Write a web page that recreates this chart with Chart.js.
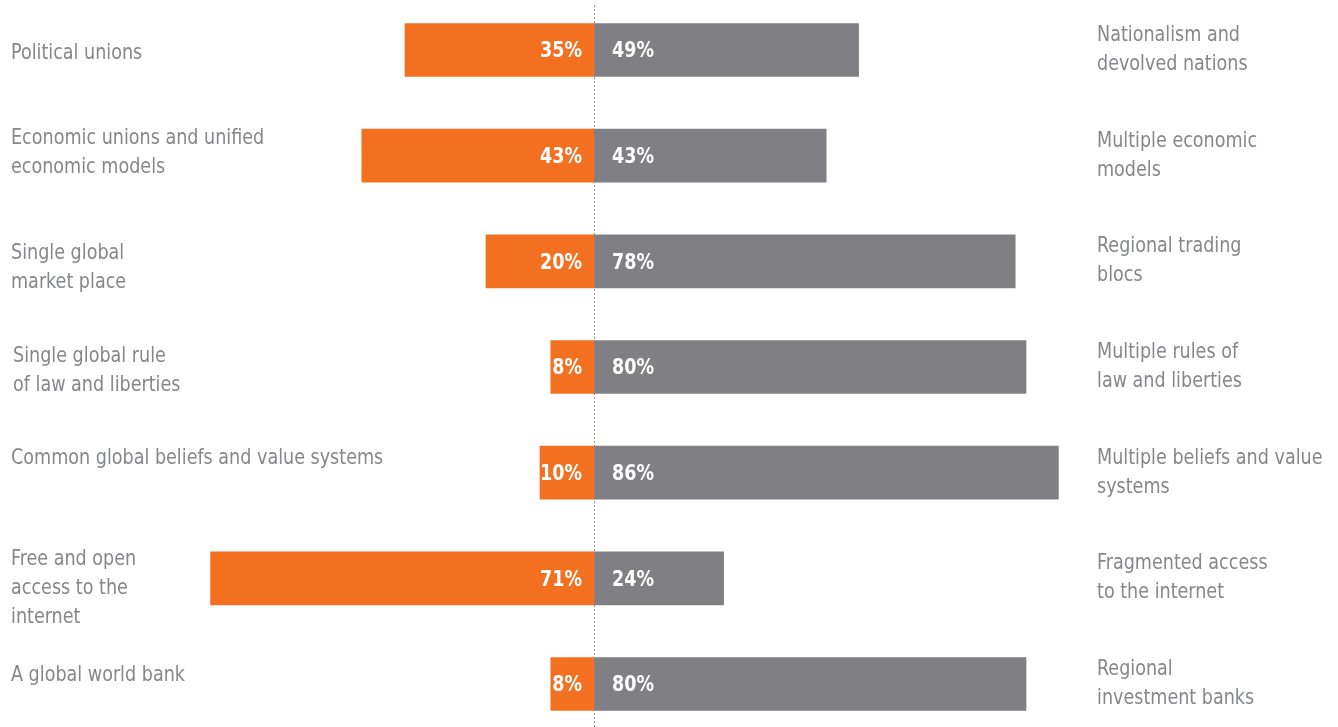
<!DOCTYPE html>
<html>
<head>
<meta charset="utf-8">
<script src="https://cdn.jsdelivr.net/npm/chart.js@4"></script>
<style>
  html, body { margin: 0; padding: 0; background: #fff; }
  #wrap { width: 1338px; height: 727px; }
</style>
</head>
<body>
<div id="wrap"><canvas id="globalChart"></canvas></div>
<script>
// global outlook: share choosing each side
const leftLabels = [
    ['Political unions'],
    ['Economic unions and unified', 'economic models'],
    ['Single global', 'market place'],
    ['Single global rule', 'of law and liberties'],
    ['Common global beliefs and value systems'],
    ['Free and open', 'access to the', 'internet'],
    ['A global world bank']
];
const rightLabels = [
    ['Nationalism and', 'devolved nations'],
    ['Multiple economic', 'models'],
    ['Regional trading', 'blocs'],
    ['Multiple rules of', 'law and liberties'],
    ['Multiple beliefs and value', 'systems'],
    ['Fragmented access', 'to the internet'],
    ['Regional', 'investment banks']
];
const globalValues = [35, 43, 20, 8, 10, 71, 8];
const localValues = [49, 43, 78, 80, 86, 24, 80];

// small vertical nudges for left-hand text blocks (px)
const leftNudge = [4, -3, 7, 4, -14, 10, -8];
const leftIndent = [0, 0, 0, 2, 0, 0, 0];

const ORANGE = '#f37021';
const GREY = '#808084';
const TEXT = '#86878b';
const FONT = '"Liberation Sans Narrow", "DejaVu Sans Condensed", "Roboto", sans-serif';
const SQUEEZE = 0.93; // narrow the font a bit more

// draw text squeezed horizontally, anchored at (x, y)
function narrowText(ctx, text, x, y) {
    ctx.save();
    ctx.translate(x, y);
    ctx.scale(SQUEEZE, 1);
    ctx.fillText(text, 0, 0);
    ctx.restore();
}

const labelsPlugin = {
    id: 'sideLabels',
    beforeDatasetsDraw(chart) {
        const { ctx, scales: { x } } = chart;
        const x0 = x.getPixelForValue(0);
        ctx.save();
        ctx.strokeStyle = '#9d968f';
        ctx.lineWidth = 1;
        ctx.setLineDash([2, 2]);
        ctx.beginPath();
        ctx.moveTo(x0 + 0.5, 5);
        ctx.lineTo(x0 + 0.5, chart.height);
        ctx.stroke();
        ctx.restore();
    },
    afterDatasetsDraw(chart) {
        const { ctx, scales: { x, y } } = chart;
        const x0 = x.getPixelForValue(0);
        const lh = 29;
        ctx.save();
        ctx.textBaseline = 'middle';
        leftLabels.forEach((lines, i) => {
            const cy = y.getPixelForValue(i);
            // side labels
            ctx.font = '21px ' + FONT;
            ctx.fillStyle = TEXT;
            ctx.textAlign = 'left';
            let start = cy - (lines.length - 1) * lh / 2 + leftNudge[i];
            lines.forEach((t, k) => narrowText(ctx, t, 11 + leftIndent[i], start + k * lh));
            const rl = rightLabels[i];
            start = cy - (rl.length - 1) * lh / 2;
            rl.forEach((t, k) => narrowText(ctx, t, 1097, start + k * lh));
            // values inside bars
            ctx.font = 'bold 21px ' + FONT;
            ctx.fillStyle = '#ffffff';
            ctx.textAlign = 'right';
            narrowText(ctx, globalValues[i] + '%', x0 - 12, cy + 2);
            ctx.textAlign = 'left';
            narrowText(ctx, localValues[i] + '%', x0 + 18, cy + 2);
        });
        ctx.restore();
    }
};

new Chart(document.getElementById('globalChart'), {
    type: 'bar',
    data: {
        labels: leftLabels.map(l => l.join(' ')),
        datasets: [{
            label: 'Global',
            data: globalValues.map(v => -v),
            backgroundColor: ORANGE,
            barThickness: 53,
            clip: false
        }, {
            label: 'Local',
            data: localValues,
            backgroundColor: GREY,
            barThickness: 53,
            clip: false
        }]
    },
    options: {
        indexAxis: 'y',
        responsive: true,
        maintainAspectRatio: false,
        animation: false,
        layout: { padding: { top: 50, bottom: 43, left: 0, right: 0 } },
        plugins: {
            legend: { display: false },
            tooltip: { enabled: false }
        },
        scales: {
            x: {
                stacked: true,
                min: -110,
                max: 137.78,
                display: false
            },
            y: {
                stacked: true,
                offset: false,
                display: false
            }
        }
    },
    plugins: [labelsPlugin]
});
</script>
</body>
</html>
